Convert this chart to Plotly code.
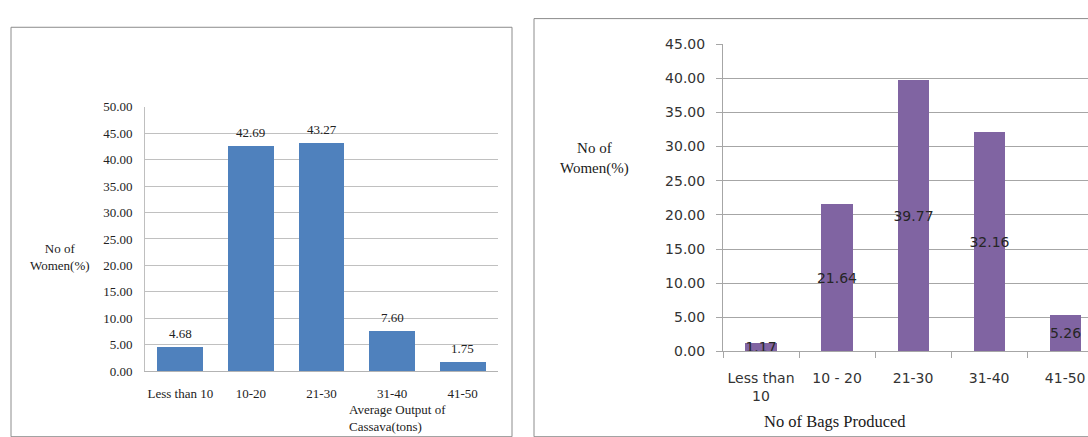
import plotly.graph_objects as go

# Average cassava output per woman (tons)
output_categories = ["Less than 10", "10-20", "21-30", "31-40", "41-50"]
output_pct = [4.68, 42.69, 43.27, 7.60, 1.75]

# Bags of cassava produced per woman
bag_categories = ["Less than<br>10", "10 - 20", "21-30", "31-40", "41-50"]
bag_pct = [1.17, 21.64, 39.77, 32.16, 5.26]

left_ticks = [0, 5, 10, 15, 20, 25, 30, 35, 40, 45, 50]
right_ticks = [0, 5, 10, 15, 20, 25, 30, 35, 40, 45]

W, H = 1088, 437
SERIF = "Liberation Serif, Times New Roman, serif"
SANS = "DejaVu Sans, Verdana, sans-serif"


def px(x):
    return x / W


def py(y):
    return 1 - y / H


fig = go.Figure()

# Left chart: average output of cassava
fig.add_trace(go.Bar(
    x=output_categories, y=output_pct,
    marker=dict(color="#4F81BD", line=dict(width=0)),
    width=0.65,
    xaxis="x", yaxis="y",
    hoverinfo="x+y",
))

# Right chart: bags produced, values printed inside the bars
fig.add_trace(go.Bar(
    x=bag_categories, y=bag_pct,
    marker=dict(color="#8064A2", line=dict(width=0)),
    width=0.41,
    text=[f"{v:.2f}" for v in bag_pct],
    textposition="inside",
    insidetextanchor="middle",
    textangle=0,
    constraintext="none",
    cliponaxis=False,
    textfont=dict(family=SANS, size=14, color="#262626"),
    xaxis="x2", yaxis="y2",
    hoverinfo="x+y",
))

annotations = []
# value labels above the left bars
for c, v in zip(output_categories, output_pct):
    annotations.append(dict(
        x=c, y=v, xref="x", yref="y", text=f"{v:.2f}", showarrow=False,
        yshift=13, yanchor="middle",
        font=dict(family=SERIF, size=13, color="#222222"),
    ))

annotations += [
    dict(x=px(60), y=py(258), xref="paper", yref="paper", text="No of<br>Women(%)",
         showarrow=False, xanchor="center", yanchor="middle", align="center",
         font=dict(family=SERIF, size=13, color="#222222")),
    dict(x=px(347), y=py(426), xref="paper", yref="paper",
         text="Average Output of<br>Cassava(tons)",
         showarrow=False, xanchor="left", yanchor="middle", align="left",
         font=dict(family=SERIF, size=13, color="#222222")),
    dict(x=px(594), y=py(156), xref="paper", yref="paper", text="No of<br>Women(%)",
         showarrow=False, xanchor="center", yanchor="middle", align="center",
         font=dict(family=SERIF, size=15, color="#1a1a1a")),
    dict(x=px(835), y=py(429), xref="paper", yref="paper", text="No of Bags Produced",
         showarrow=False, xanchor="center", yanchor="middle",
         font=dict(family=SERIF, size=16.5, color="#1a1a1a")),
]

shapes = [
    # chart frames
    dict(type="rect", xref="paper", yref="paper",
         x0=px(11), x1=px(512), y0=py(445), y1=py(20),
         line=dict(color="#8c8c8c", width=1), fillcolor="rgba(0,0,0,0)", layer="below"),
    dict(type="rect", xref="paper", yref="paper",
         x0=px(534), x1=px(1100), y0=py(445), y1=py(11),
         line=dict(color="#8c8c8c", width=1), fillcolor="rgba(0,0,0,0)", layer="below"),
]

fig.update_layout(
    width=W, height=H,
    margin=dict(l=0, r=0, t=0, b=0),
    paper_bgcolor="white", plot_bgcolor="rgba(0,0,0,0)",
    showlegend=False,
    bargap=0,
    annotations=annotations,
    shapes=shapes,
    xaxis=dict(
        domain=[px(145), px(498)], anchor="y",
        type="category", range=[-0.5, 4.5],
        showline=True, linecolor="#b3b3b3", linewidth=1,
        showgrid=False, ticks="", ticklabelstandoff=10,
        tickfont=dict(family=SERIF, size=13, color="#222222"),
        fixedrange=True,
    ),
    yaxis=dict(
        domain=[py(377), py(102.5)], anchor="x",
        range=[0, 50], tickvals=left_ticks,
        ticktext=[f"{t:.2f}" for t in left_ticks],
        showline=True, linecolor="#bfbfbf", linewidth=1,
        showgrid=True, gridcolor="#c0c0c0", gridwidth=1,
        zeroline=False, ticks="", ticklabelstandoff=9,
        tickfont=dict(family=SERIF, size=13, color="#222222"),
        fixedrange=True,
    ),
    xaxis2=dict(
        domain=[px(723), 1.0], anchor="y2",
        type="category", range=[-0.5, 4.3],
        showline=True, linecolor="#a6a6a6", linewidth=1,
        showgrid=False, ticks="outside", ticklen=6, tickcolor="#a6a6a6",
        tickson="boundaries", ticklabelstandoff=14,
        tickfont=dict(family=SANS, size=14, color="#333333"),
        fixedrange=True,
    ),
    yaxis2=dict(
        domain=[py(356.5), py(37.5)], anchor="x2",
        range=[0, 45], tickvals=right_ticks,
        ticktext=[f"{t:.2f}" for t in right_ticks],
        showline=True, linecolor="#a6a6a6", linewidth=1,
        showgrid=True, gridcolor="#a6a6a6", gridwidth=1,
        zeroline=False, ticks="outside", ticklen=6, tickcolor="#a6a6a6",
        ticklabelstandoff=8,
        tickfont=dict(family=SANS, size=14, color="#333333"),
        fixedrange=True,
    ),
)

fig.write_html("out.html")
